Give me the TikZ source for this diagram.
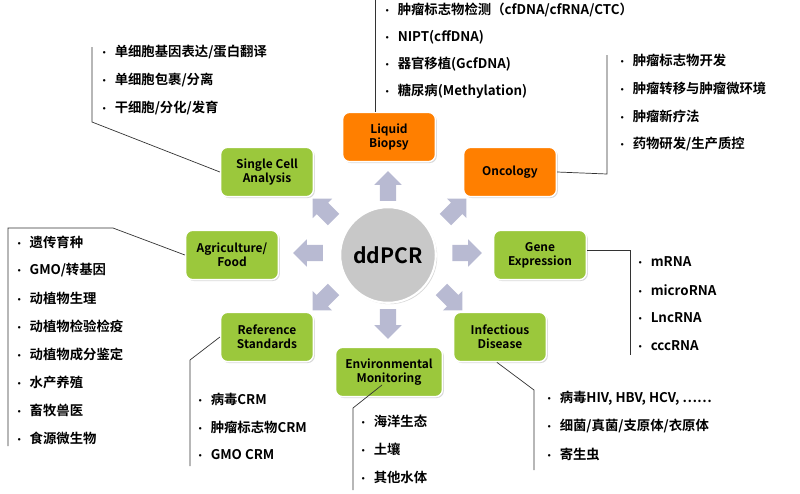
\documentclass[tikz,border=0pt]{standalone}
\usepackage{fontspec}
\setmainfont{Noto Sans CJK SC}[BoldFont={Noto Sans CJK SC Bold}]
\usetikzlibrary{shapes.arrows,shadows}
\definecolor{appgreen}{HTML}{9BC83C}
\definecolor{apporange}{HTML}{FF7F00}
\definecolor{arrowgray}{HTML}{B8BAD2}
\definecolor{hubgray}{HTML}{C8C8C8}
\tikzset{
  app/.style={rectangle, rounded corners=5pt, fill=appgreen, draw=white, line width=1pt,
    drop shadow={shadow xshift=1pt, shadow yshift=-1pt, opacity=0.3},
    minimum width=66pt, minimum height=35pt, align=center, inner sep=1pt,
    font=\fontsize{8.5}{10}\selectfont\bfseries},
  hot/.style={app, fill=apporange},
  hub/.style={circle, fill=hubgray, draw=white, line width=1.5pt,
    drop shadow={shadow xshift=1pt, shadow yshift=-1pt, opacity=0.3},
    minimum size=68pt, font=\fontsize{15}{18}\selectfont\bfseries},
  push/.style={single arrow, fill=arrowgray, minimum height=21pt, inner sep=5.5pt,
    single arrow head extend=4pt, single arrow head indent=0pt},
  item/.style={anchor=west, inner sep=0pt, font=\fontsize{9.5}{11}\selectfont\bfseries},
  link/.style={draw=black!80, line width=0.5pt}
}
\newcommand{\bul}[1]{\makebox[11pt][l]{\scriptsize•}#1}
\begin{document}
\begin{tikzpicture}[x=0.025cm, y=-0.025cm]
\useasboundingbox (0,0) rectangle (800,493);
%%% hub and arrows
\node[hub] (ddpcr) at (388,255) {ddPCR};
\node[push, rotate=90] (aN) at (388,190) {};
\node[push, rotate=45] (aNE) at (453,212) {};
\node[push, rotate=0] (aE) at (463,253) {};
\node[push, rotate=-45] (aSE) at (449,297) {};
\node[push, rotate=-90] (aS) at (388,320) {};
\node[push, rotate=-135] (aSW) at (326,297) {};
\node[push, rotate=180] (aW) at (312,253) {};
\node[push, rotate=135] (aNW) at (326,212) {};
%%% application boxes
\node[hot] (liquid) at (389,137) {Liquid\\Biopsy};
\node[hot] (onco) at (510,172) {Oncology};
\node[app] (single) at (267,172) {Single Cell\\Analysis};
\node[app] (agri) at (232,255) {Agriculture/\\Food};
\node[app] (gene) at (540,255) {Gene\\Expression};
\node[app] (refstd) at (267,337) {Reference\\Standards};
\node[app] (infect) at (500,337) {Infectious\\Disease};
\node[app, minimum width=76pt] (env) at (389,372) {Environmental\\Monitoring};
%%% lists
\foreach \t [count=\i from 0] in {肿瘤标志物检测（cfDNA/cfRNA/CTC）, NIPT(cffDNA), 器官移植(GcfDNA), 糖尿病(Methylation)}
  \node[item] (lq\i) at (382,{10+27*\i}) {\bul{\t}};
\foreach \t [count=\i from 0] in {单细胞基因表达/蛋白翻译, 单细胞包裹/分离, 干细胞/分化/发育}
  \node[item] (sc\i) at (99,{52+28*\i}) {\bul{\t}};
\foreach \t [count=\i from 0] in {肿瘤标志物开发, 肿瘤转移与肿瘤微环境, 肿瘤新疗法, 药物研发/生产质控}
  \node[item] (on\i) at (617,{60+28*\i}) {\bul{\t}};
\foreach \t [count=\i from 0] in {遗传育种, GMO/转基因, 动植物生理, 动植物检验检疫, 动植物成分鉴定, 水产养殖, 畜牧兽医, 食源微生物}
  \node[item] (ag\i) at (14,{242+28*\i}) {\bul{\t}};
\foreach \t [count=\i from 0] in {mRNA, microRNA, LncRNA, cccRNA}
  \node[item] (ge\i) at (635,{262+28*\i}) {\bul{\t}};
\foreach \t [count=\i from 0] in {病毒CRM, 肿瘤标志物CRM, GMO CRM}
  \node[item] (rs\i) at (195,{399+28*\i}) {\bul{\t}};
\foreach \t [count=\i from 0] in {海洋生态, 土壤, 其他水体}
  \node[item] (em\i) at (358,{421+28*\i}) {\bul{\t}};
\foreach \t [count=\i from 0] in {{病毒HIV, HBV, HCV, ……}, 细菌/真菌/支原体/衣原体, 寄生虫}
  \node[item] (id\i) at (544,{398+28*\i}) {\bul{\t}};
%%% brackets
\coordinate (lqtop) at (375,0);
\draw[link] (liquid.north -| lqtop) -- (lqtop);
\coordinate (sc1) at (92,47); \coordinate (sc2) at (92,122);
\draw[link] (single.west) -- (sc2) -- (sc1);
\coordinate (on1) at (607,174); \coordinate (on2) at (607,55);
\draw[link] (onco.east) -- (on1) -- (on2);
\coordinate (ag1) at (113,228); \coordinate (ag2) at (8,228); \coordinate (ag3) at (8,446);
\draw[link] (agri.west) -- (ag1) -- (ag2) -- (ag3);
\coordinate (ge1) at (630,250); \coordinate (ge2) at (630,355);
\draw[link] (gene.east |- ge1) -- (ge1) -- (ge2);
\coordinate (rs1) at (190,360); \coordinate (rs2) at (190,466);
\draw[link] (refstd.west) -- (rs1) -- (rs2);
\coordinate (em1) at (353,408); \coordinate (em2) at (353,490);
\draw[link] (382,385) -- (em1) -- (em2);
\coordinate (id1) at (534,390); \coordinate (id2) at (534,470);
\draw[link] (infect.south west) ++(44,0) -- (id1) -- (id2);
\end{tikzpicture}
\end{document}
